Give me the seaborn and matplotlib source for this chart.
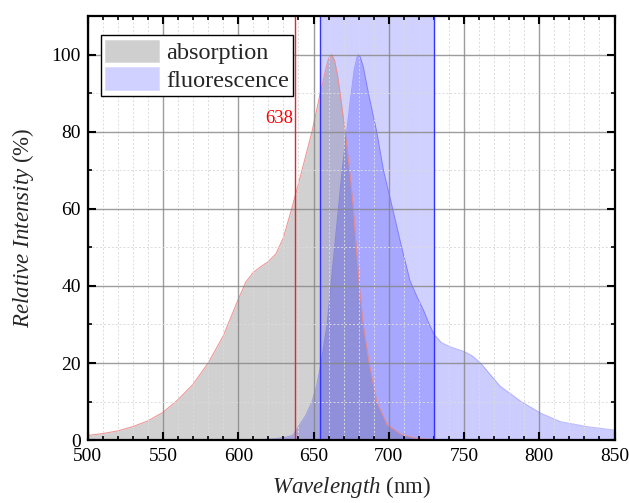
import numpy as np
import pandas as pd
import matplotlib
matplotlib.use("Agg")
import matplotlib.pyplot as plt
from matplotlib.patches import Patch
from matplotlib.ticker import MultipleLocator
import seaborn as sns

# ---- data ----
abs_nm = [500, 510, 520, 530, 540, 550, 560, 570, 580, 590, 600, 605, 610, 615, 620, 625, 630,
          635.5, 640, 645, 649, 654.5, 658, 660, 662, 664, 666, 668, 671, 674, 676.5, 678, 680.5, 683,
          687, 692, 699, 708, 719, 735, 850]
abs_val = [1.2, 1.7, 2.4, 3.5, 5.0, 7.2, 10.5, 14.5, 20, 27, 36.5, 41, 43.5, 45, 46.3, 48.3, 52.5,
           60, 66.5, 74, 80, 90, 96, 99, 100, 98.5, 94.5, 89, 80, 70, 60, 52, 40, 30,
           20, 10, 4, 1.6, 0.4, 0, 0]

fl_nm = [600, 615, 625, 632, 636, 640, 645, 649, 652, 655, 659, 661.5, 664, 666.5, 669, 672,
         675, 677, 679, 680, 681, 683, 686.5, 692, 696.5, 702, 708, 714, 719, 723, 727, 730,
         735, 741, 750, 755, 761, 774, 788, 801, 814, 832, 850]
fl_val = [0, 0.1, 0.4, 0.8, 1.2, 3.5, 6.5, 10, 14, 20, 30, 40, 50, 60, 70, 80,
          90, 96, 99.5, 100, 99.5, 97, 90, 80, 70, 61, 51, 41.5, 37, 33.8, 30, 27.5,
          25.3, 24.2, 23, 22, 20, 14, 10, 7, 4.8, 3.5, 2.6]

laser_nm = 638
laser_label = "638"
filter_band = [654, 730]
series_names = ["absorption", "fluorescence"]

df_abs = pd.DataFrame({"nm": abs_nm, "val": abs_val})
df_fl = pd.DataFrame({"nm": fl_nm, "val": fl_val})

# ---- style ----
sns.set_style("ticks")
plt.rcParams["font.family"] = ["Liberation Serif", "DejaVu Serif"]
plt.rcParams["mathtext.fontset"] = "custom"
plt.rcParams["mathtext.rm"] = "Liberation Serif"
plt.rcParams["mathtext.it"] = "Liberation Serif:italic"

fig = plt.figure(figsize=(6.29, 5.03), dpi=100)
ax = fig.add_axes([0.1395, 0.125, 0.8375, 0.843])

blue = (0.0, 0.0, 1.0)
# filter band
ax.axvspan(filter_band[0], filter_band[1], color=blue, alpha=0.18, lw=0, zorder=0.8)
for xv in filter_band:
    ax.axvline(xv, color=(0.2, 0.2, 1.0), lw=1.0, zorder=4)

# absorption
ax.fill_between(df_abs["nm"], df_abs["val"], 0, color=(0.5, 0.5, 0.5), alpha=0.36, lw=0, zorder=1)
sns.lineplot(data=df_abs, x="nm", y="val", ax=ax, color=(0.93, 0.55, 0.55), lw=0.8,
             alpha=0.9, zorder=1.2, estimator=None, sort=False)
# fluorescence
ax.fill_between(df_fl["nm"], df_fl["val"], 0, color=blue, alpha=0.2, lw=0, zorder=1.1)
sns.lineplot(data=df_fl, x="nm", y="val", ax=ax, color=blue, lw=0.7, alpha=0.25,
             zorder=1.3, estimator=None, sort=False)

# laser line
ax.axvline(laser_nm, color=(0.9, 0.15, 0.15), lw=1.0, zorder=4)
ax.text(laser_nm - 1.5, 83.5, laser_label, color="red", fontsize=13.5,
        ha="right", va="center")

ax.set_xlim(500, 850)
ax.set_ylim(0, 110)
ax.xaxis.set_major_locator(MultipleLocator(50))
ax.xaxis.set_minor_locator(MultipleLocator(10))
ax.yaxis.set_major_locator(MultipleLocator(20))
ax.yaxis.set_minor_locator(MultipleLocator(10))
ax.set_yticks([0, 20, 40, 60, 80, 100])

ax.set_axisbelow(False)
ax.grid(which="major", color=(0.52, 0.52, 0.52), lw=1.0, ls="-", alpha=0.8)
ax.grid(which="minor", color=(0.86, 0.86, 0.86), lw=0.7, ls=(0, (2, 2)))

ax.tick_params(which="both", direction="in", top=True, right=True, labelsize=14,
               colors="black")
ax.tick_params(axis="x", pad=6)
ax.tick_params(axis="y", pad=5)
ax.tick_params(which="major", length=6, width=1.5)
ax.tick_params(which="minor", length=3, width=1.2)
for s in ax.spines.values():
    s.set_linewidth(1.6)
    s.set_color("black")
    s.set_zorder(5)

ax.set_xlabel("$\\mathit{Wavelength}$ (nm)", fontsize=16.5, labelpad=6)
ax.set_ylabel("$\\mathit{Relative}$ $\\mathit{Intensity}$ (%)", fontsize=16.5, labelpad=11)

handles = [Patch(facecolor=(0.81, 0.81, 0.81), edgecolor=(0.85, 0.85, 0.85), lw=0.5),
           Patch(facecolor=(0.82, 0.82, 1.0), edgecolor=(0.85, 0.85, 1.0), lw=0.5)]
leg = ax.legend(handles, series_names, loc="upper left", bbox_to_anchor=(0.0247, 0.955),
                borderaxespad=0, fontsize=17.5, handlelength=2.2, handleheight=1.05,
                handletextpad=0.3, labelspacing=0.12, borderpad=0.18, fancybox=False,
                framealpha=1, edgecolor="black")
leg.get_frame().set_linewidth(1.0)
leg.set_zorder(6)

fig.savefig("out.png", dpi=100)
